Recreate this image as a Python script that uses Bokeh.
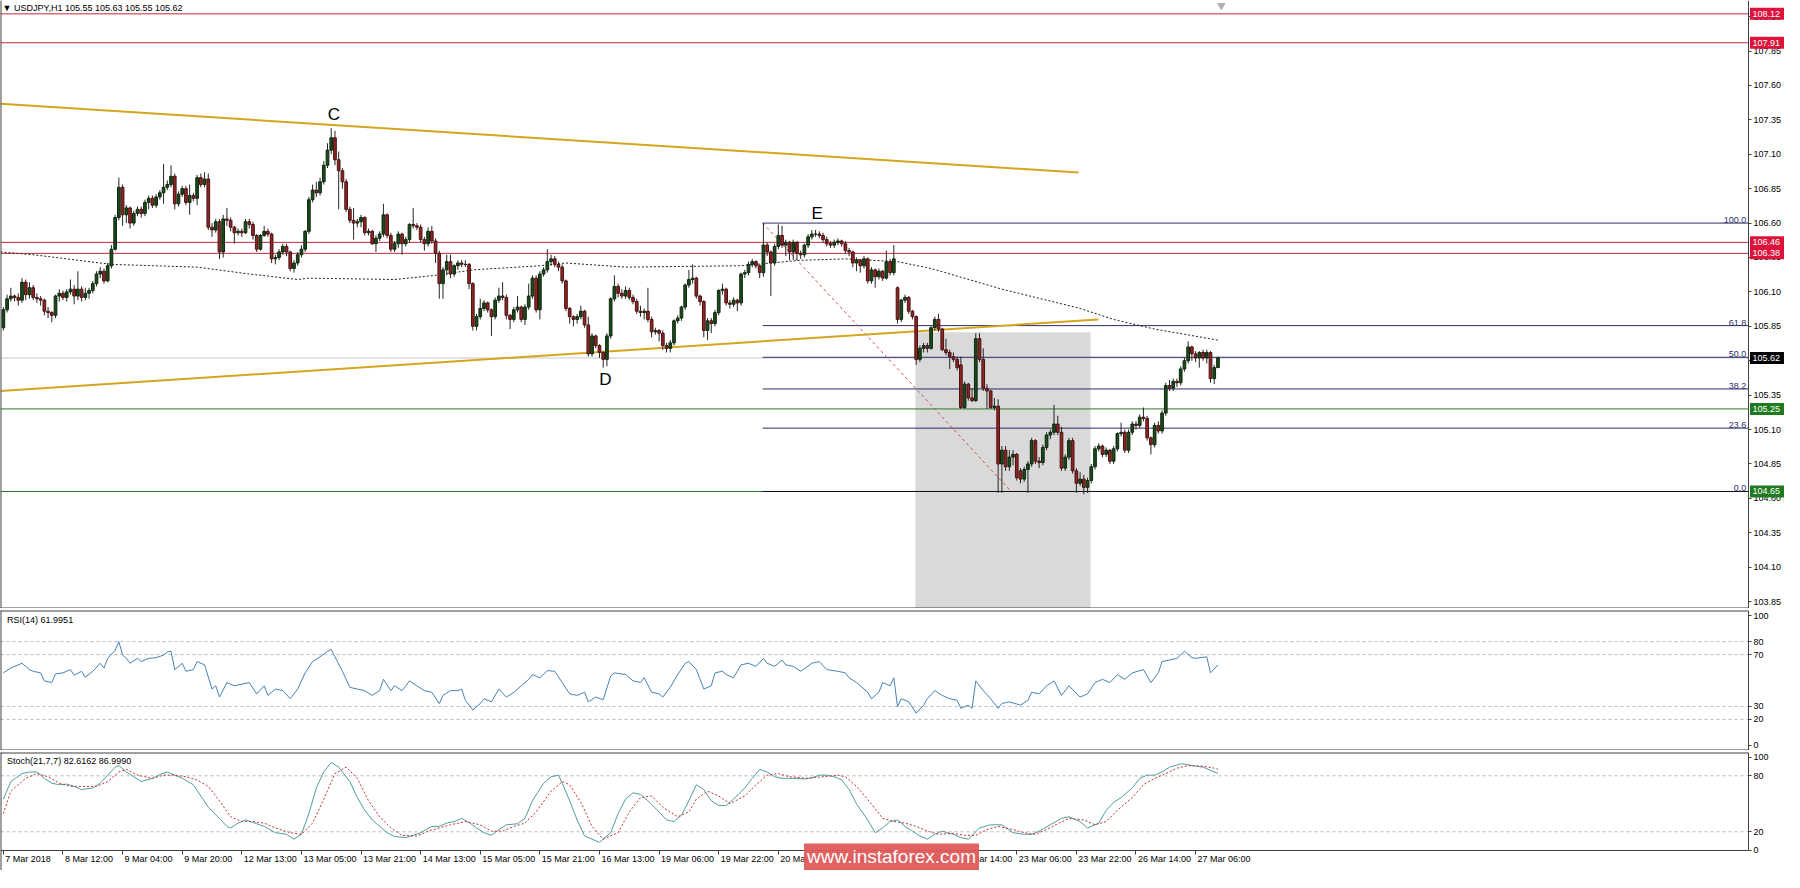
from bokeh.plotting import figure
from bokeh.models import (Range1d, FixedTicker, NumeralTickFormatter, Label, LinearAxis,
                          ColumnDataSource)
from bokeh.layouts import column
from bokeh.embed import file_html
from bokeh.resources import INLINE
from bokeh.core.properties import value

FONT = "Liberation Sans"

# ---------------- data (USDJPY H1) ----------------
opens = [
    105.84, 105.97, 106.05, 106.07, 106.06, 106.04, 106.17, 106.08, 106.13, 106.06,
    106.05, 106.04, 105.96, 105.95, 105.93, 106.07, 106.09, 106.06, 106.10, 106.12,
    106.07, 106.12, 106.06, 106.09, 106.11, 106.16, 106.23, 106.25, 106.18, 106.29,
    106.41, 106.64, 106.86, 106.66, 106.71, 106.60, 106.67, 106.70, 106.67, 106.75,
    106.78, 106.73, 106.79, 106.82, 106.86, 106.88, 106.94, 106.74, 106.81, 106.85,
    106.75, 106.80, 106.78, 106.93, 106.88, 106.92, 106.57, 106.55, 106.61, 106.39,
    106.63, 106.62, 106.57, 106.53, 106.54, 106.53, 106.61, 106.59, 106.51, 106.41,
    106.51, 106.54, 106.52, 106.34, 106.35, 106.39, 106.43, 106.39, 106.27, 106.31,
    106.37, 106.41, 106.54, 106.77, 106.84, 106.82, 106.90, 107.02, 107.13, 107.22,
    107.06, 106.98, 106.90, 106.70, 106.62, 106.60, 106.61, 106.64, 106.53, 106.54,
    106.45, 106.49, 106.52, 106.66, 106.51, 106.41, 106.45, 106.52, 106.45, 106.48,
    106.59, 106.58, 106.57, 106.48, 106.45, 106.54, 106.47, 106.38, 106.16, 106.26,
    106.32, 106.23, 106.29, 106.31, 106.30, 106.30, 106.16, 105.85, 105.92, 105.98,
    106.02, 105.97, 105.92, 106.04, 106.07, 106.06, 105.93, 105.90, 105.97, 105.99,
    105.90, 105.99, 106.07, 106.20, 105.97, 106.23, 106.26, 106.32, 106.34, 106.30,
    106.28, 106.18, 105.98, 105.92, 105.90, 105.92, 105.96, 105.86, 105.65, 105.78,
    105.71, 105.66, 105.61, 105.78, 106.05, 106.14, 106.09, 106.07, 106.11, 106.06,
    106.03, 105.96, 105.95, 105.96, 105.90, 105.81, 105.82, 105.80, 105.71, 105.69,
    105.73, 105.89, 105.91, 105.99, 106.15, 106.19, 106.20, 106.07, 106.03, 105.82,
    105.89, 105.87, 105.95, 106.11, 106.12, 106.02, 106.01, 106.04, 106.02, 106.23,
    106.24, 106.30, 106.32, 106.29, 106.24, 106.44, 106.39, 106.31, 106.43, 106.51,
    106.44, 106.46, 106.39, 106.46, 106.38, 106.37, 106.44, 106.50, 106.52, 106.52,
    106.51, 106.48, 106.45, 106.44, 106.46, 106.47, 106.45, 106.40, 106.39, 106.31,
    106.33, 106.29, 106.34, 106.18, 106.26, 106.21, 106.25, 106.20, 106.32, 106.24,
    106.13, 105.90, 106.04, 106.06, 105.96, 105.92, 105.61, 105.69, 105.71, 105.69,
    105.84, 105.90, 105.83, 105.68, 105.66, 105.63, 105.61, 105.57, 105.26, 105.43,
    105.33, 105.31, 105.76, 105.61, 105.40, 105.38, 105.26, 105.27, 104.85, 104.95,
    104.83, 104.90, 104.92, 104.80, 104.74, 104.81, 104.85, 105.02, 104.87, 104.86,
    104.97, 105.06, 105.08, 105.14, 105.08, 104.82, 104.90, 105.02, 104.80, 104.71,
    104.74, 104.68, 104.73, 104.83, 104.96, 104.98, 104.92, 104.95, 104.87, 104.96,
    105.07, 105.08, 104.95, 105.08, 105.14, 105.13, 105.19, 105.18, 105.04, 104.99,
    105.13, 105.09, 105.22, 105.42, 105.40, 105.45, 105.44, 105.54, 105.60, 105.70,
    105.65, 105.62, 105.66, 105.62, 105.66, 105.47, 105.55,
]
highs = [
    105.99, 106.08, 106.13, 106.08, 106.09, 106.20, 106.19, 106.17, 106.15, 106.09,
    106.07, 106.05, 105.99, 105.96, 106.08, 106.12, 106.11, 106.12, 106.19, 106.15,
    106.25, 106.14, 106.13, 106.13, 106.18, 106.25, 106.28, 106.27, 106.31, 106.44,
    106.66, 106.93, 106.88, 106.73, 106.72, 106.69, 106.72, 106.72, 106.77, 106.80,
    106.80, 106.81, 106.84, 107.03, 106.91, 107.02, 106.96, 106.83, 106.87, 106.87,
    106.88, 106.82, 106.95, 106.96, 106.97, 106.96, 106.60, 106.63, 106.63, 106.66,
    106.71, 106.64, 106.58, 106.56, 106.56, 106.63, 106.63, 106.61, 106.52, 106.52,
    106.58, 106.56, 106.53, 106.37, 106.41, 106.45, 106.45, 106.40, 106.33, 106.39,
    106.44, 106.55, 106.79, 106.88, 106.90, 106.93, 107.05, 107.18, 107.29, 107.27,
    107.12, 107.00, 106.92, 106.72, 106.71, 106.63, 106.66, 106.65, 106.56, 106.55,
    106.51, 106.54, 106.74, 106.67, 106.53, 106.47, 106.54, 106.53, 106.50, 106.60,
    106.71, 106.60, 106.59, 106.50, 106.57, 106.58, 106.49, 106.40, 106.28, 106.37,
    106.37, 106.30, 106.33, 106.33, 106.33, 106.31, 106.17, 105.94, 106.05, 106.04,
    106.03, 105.98, 106.06, 106.13, 106.17, 106.08, 105.94, 105.99, 106.07, 106.00,
    106.01, 106.16, 106.22, 106.22, 106.25, 106.28, 106.41, 106.37, 106.36, 106.32,
    106.30, 106.19, 105.99, 105.93, 105.94, 106.00, 105.97, 105.92, 105.80, 105.79,
    105.72, 105.67, 105.80, 106.06, 106.22, 106.16, 106.12, 106.14, 106.13, 106.08,
    106.05, 106.00, 105.98, 106.13, 105.92, 105.84, 105.83, 105.82, 105.73, 105.75,
    105.90, 105.93, 106.00, 106.16, 106.26, 106.30, 106.21, 106.08, 106.04, 105.91,
    105.91, 105.97, 106.12, 106.16, 106.13, 106.04, 106.06, 106.05, 106.24, 106.26,
    106.32, 106.34, 106.33, 106.30, 106.60, 106.46, 106.40, 106.45, 106.59, 106.58,
    106.48, 106.47, 106.48, 106.47, 106.40, 106.45, 106.52, 106.55, 106.55, 106.54,
    106.53, 106.50, 106.47, 106.48, 106.49, 106.48, 106.47, 106.42, 106.40, 106.35,
    106.34, 106.36, 106.35, 106.28, 106.27, 106.27, 106.26, 106.40, 106.34, 106.44,
    106.14, 106.05, 106.08, 106.07, 105.97, 105.93, 105.71, 105.73, 105.73, 105.85,
    105.92, 105.94, 105.84, 105.76, 105.68, 105.66, 105.63, 105.63, 105.45, 105.44,
    105.40, 105.80, 105.80, 105.69, 105.43, 105.39, 105.33, 105.32, 104.98, 104.98,
    104.95, 104.95, 104.93, 104.82, 104.83, 104.87, 105.04, 105.03, 104.90, 104.99,
    105.08, 105.10, 105.28, 105.20, 105.12, 104.92, 105.04, 105.04, 104.82, 104.79,
    104.77, 104.75, 104.85, 104.98, 105.00, 104.99, 104.97, 104.96, 104.98, 105.08,
    105.15, 105.10, 105.10, 105.16, 105.16, 105.21, 105.26, 105.20, 105.05, 105.15,
    105.16, 105.24, 105.44, 105.46, 105.47, 105.47, 105.56, 105.62, 105.74, 105.71,
    105.67, 105.67, 105.68, 105.68, 105.67, 105.57, 105.63,
]
lows = [
    105.82, 105.95, 106.03, 106.03, 106.00, 106.02, 106.04, 106.05, 106.04, 106.02,
    106.00, 105.93, 105.91, 105.88, 105.91, 106.03, 106.04, 106.03, 106.08, 106.01,
    106.04, 106.03, 106.04, 106.05, 106.09, 106.14, 106.20, 106.16, 106.17, 106.27,
    106.40, 106.62, 106.58, 106.60, 106.56, 106.58, 106.65, 106.64, 106.65, 106.70,
    106.71, 106.71, 106.77, 106.74, 106.84, 106.86, 106.70, 106.72, 106.79, 106.73,
    106.66, 106.76, 106.73, 106.86, 106.86, 106.55, 106.50, 106.53, 106.34, 106.35,
    106.58, 106.54, 106.45, 106.51, 106.50, 106.52, 106.56, 106.48, 106.39, 106.40,
    106.50, 106.50, 106.31, 106.30, 106.33, 106.37, 106.36, 106.25, 106.24, 106.29,
    106.35, 106.39, 106.52, 106.75, 106.79, 106.80, 106.88, 107.00, 107.10, 107.02,
    106.70, 106.85, 106.68, 106.60, 106.48, 106.57, 106.57, 106.51, 106.51, 106.44,
    106.39, 106.47, 106.50, 106.49, 106.39, 106.39, 106.42, 106.37, 106.43, 106.46,
    106.56, 106.55, 106.46, 106.40, 106.43, 106.45, 106.31, 106.05, 106.05, 106.22,
    106.20, 106.21, 106.26, 106.28, 106.28, 106.12, 105.82, 105.82, 105.90, 105.96,
    105.95, 105.78, 105.90, 106.02, 106.04, 105.90, 105.83, 105.88, 105.95, 105.88,
    105.86, 105.97, 106.05, 105.95, 105.90, 106.21, 106.24, 106.29, 106.28, 106.25,
    106.16, 105.96, 105.87, 105.85, 105.87, 105.90, 105.84, 105.63, 105.63, 105.69,
    105.62, 105.55, 105.56, 105.76, 106.03, 106.06, 106.05, 106.05, 106.04, 106.01,
    105.94, 105.92, 105.90, 105.88, 105.77, 105.79, 105.74, 105.68, 105.66, 105.66,
    105.71, 105.87, 105.89, 105.97, 106.13, 106.16, 106.05, 106.00, 105.77, 105.75,
    105.80, 105.85, 105.93, 106.08, 106.00, 105.98, 105.99, 105.96, 106.00, 106.20,
    106.22, 106.28, 106.27, 106.20, 106.21, 106.36, 106.07, 106.29, 106.41, 106.42,
    106.36, 106.33, 106.33, 106.33, 106.34, 106.35, 106.42, 106.48, 106.50, 106.49,
    106.46, 106.43, 106.42, 106.42, 106.44, 106.43, 106.38, 106.36, 106.28, 106.25,
    106.24, 106.27, 106.16, 106.16, 106.13, 106.19, 106.18, 106.19, 106.22, 106.22,
    105.87, 105.88, 106.02, 105.94, 105.90, 105.57, 105.59, 105.66, 105.66, 105.68,
    105.82, 105.81, 105.67, 105.64, 105.54, 105.59, 105.53, 105.25, 105.25, 105.31,
    105.30, 105.30, 105.59, 105.38, 105.25, 105.25, 105.24, 104.64, 104.64, 104.80,
    104.80, 104.84, 104.73, 104.71, 104.72, 104.64, 104.83, 104.85, 104.82, 104.84,
    104.95, 105.03, 105.06, 105.06, 104.80, 104.80, 104.88, 104.78, 104.64, 104.69,
    104.63, 104.64, 104.71, 104.81, 104.94, 104.90, 104.90, 104.85, 104.85, 104.94,
    105.05, 104.93, 104.93, 105.06, 105.10, 105.11, 105.16, 105.02, 104.92, 104.97,
    105.07, 105.07, 105.20, 105.38, 105.38, 105.41, 105.42, 105.52, 105.58, 105.60,
    105.59, 105.55, 105.60, 105.58, 105.44, 105.43, 105.55,
]
closes = [
    105.97, 106.05, 106.07, 106.06, 106.04, 106.17, 106.08, 106.13, 106.06, 106.05,
    106.04, 105.96, 105.95, 105.93, 106.07, 106.09, 106.06, 106.10, 106.12, 106.07,
    106.12, 106.06, 106.09, 106.11, 106.16, 106.23, 106.25, 106.18, 106.29, 106.41,
    106.64, 106.86, 106.66, 106.71, 106.60, 106.67, 106.70, 106.67, 106.75, 106.78,
    106.73, 106.79, 106.82, 106.86, 106.88, 106.94, 106.74, 106.81, 106.85, 106.75,
    106.80, 106.78, 106.93, 106.88, 106.92, 106.57, 106.55, 106.61, 106.39, 106.63,
    106.62, 106.57, 106.53, 106.54, 106.53, 106.61, 106.59, 106.51, 106.41, 106.51,
    106.54, 106.52, 106.34, 106.35, 106.39, 106.43, 106.39, 106.27, 106.31, 106.37,
    106.41, 106.54, 106.77, 106.84, 106.82, 106.90, 107.02, 107.13, 107.22, 107.06,
    106.98, 106.90, 106.70, 106.62, 106.60, 106.61, 106.64, 106.53, 106.54, 106.45,
    106.49, 106.52, 106.66, 106.51, 106.41, 106.45, 106.52, 106.45, 106.48, 106.59,
    106.58, 106.57, 106.48, 106.45, 106.54, 106.47, 106.38, 106.16, 106.26, 106.32,
    106.23, 106.29, 106.31, 106.30, 106.30, 106.16, 105.85, 105.92, 105.98, 106.02,
    105.97, 105.92, 106.04, 106.07, 106.06, 105.93, 105.90, 105.97, 105.99, 105.90,
    105.99, 106.07, 106.20, 105.97, 106.23, 106.26, 106.32, 106.34, 106.30, 106.28,
    106.18, 105.98, 105.92, 105.90, 105.92, 105.96, 105.86, 105.65, 105.78, 105.71,
    105.66, 105.61, 105.78, 106.05, 106.14, 106.09, 106.07, 106.11, 106.06, 106.03,
    105.96, 105.95, 105.96, 105.90, 105.81, 105.82, 105.80, 105.71, 105.69, 105.73,
    105.89, 105.91, 105.99, 106.15, 106.19, 106.20, 106.07, 106.03, 105.82, 105.89,
    105.87, 105.95, 106.11, 106.12, 106.02, 106.01, 106.04, 106.02, 106.23, 106.24,
    106.30, 106.32, 106.29, 106.24, 106.44, 106.39, 106.31, 106.43, 106.51, 106.44,
    106.46, 106.39, 106.46, 106.38, 106.37, 106.44, 106.50, 106.52, 106.52, 106.51,
    106.48, 106.45, 106.44, 106.46, 106.47, 106.45, 106.40, 106.39, 106.31, 106.33,
    106.29, 106.34, 106.18, 106.26, 106.21, 106.25, 106.20, 106.32, 106.24, 106.34,
    105.90, 106.04, 106.06, 105.96, 105.92, 105.61, 105.69, 105.71, 105.69, 105.84,
    105.90, 105.83, 105.68, 105.66, 105.63, 105.61, 105.55, 105.26, 105.43, 105.33,
    105.31, 105.76, 105.61, 105.40, 105.38, 105.26, 105.27, 104.85, 104.95, 104.83,
    104.90, 104.92, 104.75, 104.74, 104.81, 104.85, 105.02, 104.87, 104.86, 104.97,
    105.06, 105.08, 105.14, 105.08, 104.82, 104.90, 105.02, 104.80, 104.71, 104.74,
    104.68, 104.73, 104.83, 104.96, 104.98, 104.92, 104.95, 104.87, 104.96, 105.07,
    105.08, 104.95, 105.08, 105.14, 105.13, 105.19, 105.18, 105.04, 104.99, 105.13,
    105.09, 105.22, 105.42, 105.40, 105.45, 105.44, 105.54, 105.60, 105.70, 105.65,
    105.62, 105.66, 105.62, 105.66, 105.47, 105.55, 105.62,
]

# moving average (dotted) read at sample bars
ma_bars = [-0.77, 8, 29, 52, 66, 79, 82, 105, 116, 126, 144, 151, 167, 198, 214,
           226, 240, 249, 268, 289, 298, 309, 326]
ma_vals = [106.39, 106.37, 106.30, 106.28, 106.23, 106.19, 106.20, 106.19, 106.22,
           106.26, 106.29, 106.31, 106.28, 106.29, 106.33, 106.34, 106.32, 106.27,
           106.12, 105.98, 105.90, 105.83, 105.75]

# RSI(14) read at sample bars
rsi_bars = [0, 2, 5, 7, 8, 10, 11, 13, 14, 16, 18, 19, 21, 22, 24, 26, 27, 28, 30, 31,
            32, 33, 34, 36, 37, 39, 41, 43, 44, 45, 46, 48, 49, 51, 52, 54, 56, 57, 58, 60,
            62, 64, 66, 68, 70, 71, 73, 75, 77, 79, 81, 83, 85, 87, 88, 89, 91, 93, 95, 97,
            99, 101, 102, 104, 105, 107, 109, 111, 113, 115, 117, 118, 120, 122, 123, 124,
            126, 128, 129, 131, 133, 135, 137, 139, 141, 142, 144, 146, 148, 150,
            152, 154, 156, 157, 159, 161, 163, 164, 167, 169, 171, 172, 174, 176, 177, 179,
            181, 183, 184, 186, 188, 190, 191, 193, 194, 196, 198, 200, 202, 204,
            205, 207, 209, 210, 212, 214, 217, 219, 221, 224, 226, 227, 229, 232, 233, 235,
            236, 238, 239, 240, 241, 243, 245, 247, 248, 250, 252, 254, 256, 257,
            259, 260, 261, 263, 265, 267, 268, 270, 273, 275, 276, 278, 280, 282, 284, 286,
            289, 291, 293, 295, 297, 299, 301, 303, 306, 308, 310, 311, 313, 315,
            317, 319, 320, 323, 324, 326]
rsi_vals = [55.9, 59.6, 63.3, 58.4, 57.1, 55.9, 49.7, 48.4, 55.1, 55.9,
            58.4, 54.1, 57.1, 52.6, 57.1, 63.3, 59.6, 67.1, 73.3, 80.0,
            69.6, 67.1, 63.3, 67.1, 64.6, 67.1, 67.6, 69.6, 72.0, 72.5,
            58.4, 63.3, 57.1, 58.4, 64.6, 62.1, 43.4, 45.9, 37.2, 48.4,
            45.9, 47.2, 48.4, 39.7, 45.9, 38.5, 43.4, 42.2, 36.0, 43.4,
            55.9, 64.6, 68.3, 72.5, 74.0, 68.3, 57.1, 44.7, 43.4, 42.2,
            38.5, 42.2, 50.9, 42.2, 45.9, 42.2, 49.7, 45.9, 42.2, 40.9,
            32.2, 38.5, 42.2, 42.2, 43.4, 34.7, 27.3, 32.2, 36.0, 33.5,
            43.4, 37.2, 40.9, 45.9, 50.9, 54.6, 52.1, 57.6, 57.1, 48.4,
            39.7, 38.5, 40.9, 33.5, 37.2, 35.2, 53.4, 55.9, 54.6, 49.7,
            48.4, 52.1, 40.9, 39.7, 37.2, 44.7, 54.6, 63.3, 64.6, 58.4,
            43.4, 45.9, 55.9, 57.1, 54.6, 52.1, 62.1, 63.3, 60.9, 67.1,
            63.3, 60.9, 65.8, 62.1, 60.9, 57.1, 63.3, 64.6, 58.4, 57.1,
            55.9, 52.1, 48.4, 40.9, 36.0, 40.9, 48.4, 45.9, 52.1, 29.8,
            36.0, 33.5, 24.8, 31.0, 36.0, 42.2, 38.5, 36.0, 34.7, 28.5,
            31.0, 28.5, 49.7, 42.2, 36.0, 28.5, 32.2, 33.5, 31.0, 34.7,
            40.9, 39.7, 45.9, 49.7, 38.5, 45.9, 37.2, 39.7, 48.4, 50.9,
            48.4, 54.6, 50.9, 55.9, 58.4, 48.4, 55.9, 64.6, 65.8, 67.1,
            72.5, 67.6, 67.1, 68.3, 55.9, 62.0]

# Stochastic(21,7,7) main and signal read at sample bars
stoch_bars = [0, 2, 5, 7, 9, 11, 13, 15, 17, 19, 21, 24, 26, 28, 30, 31, 33, 35, 37, 40,
              42, 44, 46, 48, 51, 53, 55, 58, 60, 61, 63, 65, 67, 70, 73, 76, 78, 80, 82, 84,
              86, 88, 90, 93, 95, 97, 99, 101, 103, 105, 108, 110, 112, 115, 117, 119, 121,
              123, 125, 127, 129, 131, 133, 135, 138, 140, 142, 145, 147, 149,
              150, 152, 154, 156, 158, 160, 163, 165, 167, 169, 171, 173, 176, 178, 180,
              182, 184, 186, 188, 190, 192, 194, 196, 199, 201, 203, 205, 207, 209, 212,
              215, 217, 219, 221, 223, 225, 227, 229, 232, 234, 236, 238, 240, 242, 244,
              246, 248, 250, 252, 255, 257, 259, 262, 265, 268, 271, 274, 276, 278, 281,
              284, 286, 289, 291, 294, 296, 298, 300, 303, 305, 307, 309, 311, 313, 316,
              317, 319, 322, 324, 326]
stoch_main = [55, 73.8, 82.4, 84.1, 84.1, 77.3, 72.1, 70.4, 71.1, 68.7,
              65.3, 67, 72.1, 80.7, 89.3, 91, 84.1, 79, 73.8, 77.3,
              81.4, 84.1, 80.7, 77.3, 70.4, 58.4, 46.4, 34.4, 25.8, 24.1,
              29.3, 32.7, 30, 25.8, 19, 17.3, 12.1, 17.3, 39.5, 67,
              84.1, 94.4, 89.3, 73.8, 56.7, 43, 32.7, 25.8, 19, 14.9,
              13.8, 16.2, 19, 25.8, 25.8, 29.3, 31, 34.4, 30, 24.1,
              19, 16.2, 22.4, 27.5, 28.6, 34.4, 53.3, 72.1, 79, 80.7,
              72.1, 53.3, 32.7, 15.5, 12.1, 8.7, 19, 39.5, 55, 61.8,
              60.1, 53.3, 41.3, 32.7, 31, 37.8, 53.3, 70.4, 65.3, 53.3,
              48.1, 48.1, 55, 67, 77.3, 86.9, 84.1, 79, 77.3, 77.3,
              76.6, 77.9, 80.7, 80.7, 79, 75.5, 65.3, 49.8, 32.7, 19,
              24.1, 31, 32.7, 25.8, 20.7, 15.5, 12.1, 17.3, 20.7, 17.3,
              13.8, 12.1, 24.1, 27.5, 27.5, 19, 17.3, 17.3, 20.7, 27.5,
              34.4, 36.1, 31, 24.1, 29.3, 43, 51.5, 56.7, 67, 77.3,
              80.7, 80.7, 84.1, 89.3, 92.7, 92.7, 91, 89.3, 85.8, 82.6]
signal_bars = [0, 2, 6, 9, 12, 15, 18, 21, 25, 28, 31, 33, 36, 40, 43, 46, 49, 52, 55, 58,
               61, 64, 67, 70, 73, 77, 80, 83, 86, 89, 92, 95, 98, 101, 104, 107, 111, 114,
               117, 120, 124, 128, 131, 134, 137, 140, 143, 147, 150, 152, 155, 158, 161,
               165, 168, 171, 174, 177, 181, 184, 186, 189, 192, 195, 199, 202, 205, 208,
               211, 216, 220, 224, 226, 229, 233, 236, 239, 242, 245, 248, 251, 255, 258,
               261, 264, 267, 271, 274, 277, 280, 283, 286, 290, 293, 296, 299, 303, 306,
               309, 312, 315, 318, 322, 325, 326]
stoch_signal = [39.5, 63.5, 77.3, 82.4, 79, 72.1, 68.7, 68.7, 68.7, 73.8,
                84.1, 86.9, 80.7, 77.3, 80.7, 80.7, 79, 75.5, 68.7, 53.3,
                36.1, 31, 31, 29.3, 24.1, 19, 17.3, 29.3, 55, 82.4,
                89.3, 77.3, 53.3, 36.1, 24.1, 16.2, 15.5, 20.7, 24.1, 27.5,
                31, 27.5, 20.7, 20.7, 25.8, 29.3, 41.3, 63.5, 73.8, 70.4,
                51.5, 25.8, 12.1, 19, 41.3, 56.7, 58.4, 46.4, 36.1, 41.3,
                55, 63.5, 58.4, 50.1, 58.4, 70.4, 80.7, 82.4, 79, 77.3,
                79, 80.7, 79, 68.7, 49.8, 34.4, 31, 29.3, 25.8, 20.7,
                17.3, 18.3, 16.2, 16.2, 22.4, 25.8, 22.4, 19, 17.3, 22.4,
                28.6, 34.4, 32.7, 27.5, 31, 43, 56.7, 70.4, 77.3, 82.4,
                88.2, 91, 90.3, 88.2, 87.0]

time_ticks = list(range(0, 321, 16))
time_labels = ["7 Mar 2018", "8 Mar 12:00", "9 Mar 04:00", "9 Mar 20:00", "12 Mar 13:00",
               "13 Mar 05:00", "13 Mar 21:00", "14 Mar 13:00", "15 Mar 05:00", "15 Mar 21:00",
               "16 Mar 13:00", "19 Mar 06:00", "19 Mar 22:00", "20 Mar 14:00", "21 Mar 06:00",
               "21 Mar 22:00", "22 Mar 14:00", "23 Mar 06:00", "23 Mar 22:00", "26 Mar 14:00",
               "27 Mar 06:00"]

# chart objects
red_levels = [108.12, 107.91, 106.46, 106.38]
green_levels = [105.25, 104.65]
bid_price = 105.62
fib_high, fib_low = 106.60, 104.65
fib_ratios = [100.0, 61.8, 50.0, 38.2, 23.6, 0.0]
fib_start_bar, fib_end_bar = 203.8, 270.5
upper_tl_bars, upper_tl_prices = [-0.77, 288.6], [107.467, 106.967]
lower_tl_bars, lower_tl_prices = [-0.77, 293.9], [105.38, 105.90]
box_bars, box_top = [244.8, 291.8], 105.806
wave_names = ["C", "D", "E"]
wave_bars = [88.7, 161.6, 218.4]
wave_prices = [107.387, 105.467, 106.669]
tag_texts = ["108.12", "107.91", "106.46", "106.38", "105.62", "105.25", "104.65"]
tag_prices = [108.12, 107.91, 106.46, 106.38, 105.62, 105.25, 104.65]
tag_colors = ["#dc143c", "#dc143c", "#dc143c", "#dc143c", "#000000", "#1f7a1f", "#1f7a1f"]

# ---------------- layout constants ----------------
TOTAL_W = 1784
AXIS_COL = 36                      # width of the price-scale column
AXIS_BAR = 468.4                   # bar index where the price scale sits
X0 = -0.77
PX_PER_BAR = (TOTAL_W - AXIS_COL) / (AXIS_BAR - X0)
XR = Range1d(X0, X0 + TOTAL_W / PX_PER_BAR)
AX = "#404040"
RED = "#c0283c"
GREEN = "#2a7a2a"
FIBC = "#2c2c6c"


def style_axis(ax):
    ax.axis_line_color = AX
    ax.major_tick_line_color = AX
    ax.major_tick_in = 0
    ax.major_tick_out = 3
    ax.minor_tick_line_color = None
    ax.major_label_text_font = FONT
    ax.major_label_text_font_size = "9px"
    ax.major_label_text_color = "#000000"
    ax.major_label_standoff = 2


def make_fig(h, yr, top=0, xloc=None):
    f = figure(width=TOTAL_W, frame_height=h, x_range=XR, y_range=yr,
               x_axis_location=xloc, y_axis_location="right",
               output_backend="svg", toolbar_location=None,
               min_border_left=0, min_border_top=top, min_border_bottom=0,
               min_border_right=0, outline_line_color=None,
               background_fill_color="white", border_fill_color="white")
    f.grid.visible = False
    ax = f.yaxis[0]
    style_axis(ax)
    ax.fixed_location = AXIS_BAR
    return f


def borders(f, h, yr, top=True, bottom=True):
    # panel frame lines around the data area (left, top, bottom), price scale is the right edge
    ppu = h / (yr.end - yr.start)
    xl = XR.start + 0.5 / PX_PER_BAR
    f.line([xl, xl], [yr.start, yr.end], line_color=AX, line_width=1, level="overlay")
    if top:
        yt = yr.end - 0.5 / ppu
        f.line([XR.start, AXIS_BAR], [yt, yt], line_color=AX, line_width=1, level="overlay")
    if bottom:
        yb = yr.start + 0.5 / ppu
        f.line([XR.start, AXIS_BAR], [yb, yb], line_color=AX, line_width=1, level="overlay")


def hlines(f, ys, color, dash="solid"):
    f.segment(x0=[XR.start] * len(ys), y0=ys, x1=[AXIS_BAR] * len(ys), y1=ys,
              line_color=color, line_width=1, line_dash=dash, level="underlay")


# ---------------- main price panel ----------------
MAIN_H = 608
main_yr = Range1d(103.80, 108.217)
p = make_fig(MAIN_H, main_yr)
p.yaxis.ticker = FixedTicker(ticks=[round(103.85 + 0.25 * k, 2) for k in range(18)])
p.yaxis.formatter = NumeralTickFormatter(format="0.00")
borders(p, MAIN_H, main_yr, top=False, bottom=True)

p.quad(left=[box_bars[0]], right=[box_bars[1]], top=[box_top], bottom=[103.0],
       fill_color="#d9d9d9", line_color=None, level="underlay")
hlines(p, red_levels, RED)
hlines(p, green_levels, GREEN)
hlines(p, [bid_price], "#c8c8c8")

fib_prices = [fib_low + (fib_high - fib_low) * r / 100.0 for r in fib_ratios]
fib_colors = [FIBC if r > 0 else "#101020" for r in fib_ratios]
p.segment(x0=[fib_start_bar] * len(fib_prices), y0=fib_prices,
          x1=[AXIS_BAR] * len(fib_prices), y1=fib_prices, line_color=fib_colors,
          line_width=1, level="underlay")
p.line([fib_start_bar, fib_end_bar], [fib_high, fib_low], line_color="#d05050",
       line_dash="3 3", line_width=1)
p.text(x=[AXIS_BAR - 0.6] * len(fib_prices), y=fib_prices,
       text=["%.1f" % r for r in fib_ratios], text_font=value(FONT),
       text_font_size="9px", text_color=FIBC, text_align="right",
       text_baseline="bottom")

p.line(upper_tl_bars, upper_tl_prices, line_color="#d4a520", line_width=2)
p.line(lower_tl_bars, lower_tl_prices, line_color="#d4a520", line_width=2)
p.line(ma_bars, ma_vals, line_color="#202020", line_width=1, line_dash="2 2")

bars = list(range(len(closes)))
up = [c >= o for o, c in zip(opens, closes)]
src = ColumnDataSource(dict(
    x=bars, h=highs, l=lows,
    top=[max(o, c) for o, c in zip(opens, closes)],
    bot=[min(o, c) for o, c in zip(opens, closes)],
    fill=["#1d4a1d" if u else "#8c2626" for u in up],
    edge=["#0c260c" if u else "#4a1010" for u in up],
))
p.segment(x0="x", y0="l", x1="x", y1="h", source=src, line_color="#262626", line_width=1)
p.vbar(x="x", width=0.72, top="top", bottom="bot", source=src,
       fill_color="fill", line_color="edge", line_width=1)

p.text(x=wave_bars, y=wave_prices, text=wave_names, text_font=value(FONT),
       text_font_size="17px", text_color="#000000", text_align="center",
       text_baseline="middle")
p.text(x=[-0.2], y=[108.159], text=["\u25bc USDJPY,H1  105.55 105.63 105.55 105.62"],
       text_font=value(FONT), text_font_size="9px", text_color="#000000",
       text_align="left", text_baseline="middle")
p.scatter(x=[326.9], y=[108.18], marker="inverted_triangle", size=7, color="#b0b0b0")

# price tags in the price-scale column (drawn above the scale labels)
tag_x0 = AXIS_BAR + 1.5 / PX_PER_BAR
tag_x1 = XR.end
p.rect(x=[(tag_x0 + tag_x1) / 2] * len(tag_prices), y=tag_prices,
       width=[tag_x1 - tag_x0] * len(tag_prices), height=12, height_units="screen",
       fill_color=tag_colors, line_color=None, level="overlay")
p.text(x=[tag_x0 + 2.5 / PX_PER_BAR] * len(tag_prices), y=tag_prices, text=tag_texts,
       text_font=value(FONT), text_font_size="9px", text_color="white",
       text_align="left", text_baseline="middle", level="overlay")

# ---------------- RSI panel ----------------
RSI_H = 140
rsi_yr = Range1d(-4, 104)
pr = make_fig(RSI_H, rsi_yr, top=2)
pr.yaxis.ticker = FixedTicker(ticks=[0, 20, 30, 70, 80, 100])
borders(pr, RSI_H, rsi_yr)
hlines(pr, [80, 70, 30, 20], "#b8b8b8", dash="3 3")
pr.line(rsi_bars, rsi_vals, line_color="#4682b4", line_width=1)
pr.text(x=[1.0], y=[97], text=["RSI(14) 61.9951"], text_font=value(FONT),
        text_font_size="9px", text_color="#000000", text_align="left",
        text_baseline="middle")

# ---------------- Stochastic panel (time scale inside its lower strip) ----------------
ST_H = 118
st_yr = Range1d(-21.5, 105)
ps = make_fig(ST_H, st_yr, top=2, xloc="below")
ps.yaxis.ticker = FixedTicker(ticks=[0, 20, 80, 100])
ps.yaxis[0].bounds = (0, st_yr.end)
borders(ps, ST_H, st_yr, top=True, bottom=False)
hlines(ps, [80, 20], "#b8b8b8", dash="3 3")
ps.line(stoch_bars, stoch_main, line_color="#4f9e9e", line_width=1)
ps.line(signal_bars, stoch_signal, line_color="#c03030", line_width=1, line_dash="2 2")
ps.text(x=[1.0], y=[96.4], text=["Stoch(21,7,7) 82.6162 86.9990"], text_font=value(FONT),
        text_font_size="9px", text_color="#000000", text_align="left",
        text_baseline="middle")

# time scale: tick marks at the bar, label starting just right of its tick
xa = ps.xaxis[0]
style_axis(xa)
xa.fixed_location = 0
xa.bounds = (XR.start, AXIS_BAR)
xa.ticker = FixedTicker(ticks=time_ticks)
xa.major_label_overrides = {t: "" for t in time_ticks}
xa.major_tick_out = 4

CHAR_W = {" ": 2.5, ":": 2.5, "M": 7.5, "a": 5.0, "r": 3.0}


def label_px(s):
    return sum(CHAR_W.get(ch, 5.0) for ch in s)


label_pos = [round(t + (label_px(s) / 2 + 2) / PX_PER_BAR, 3)
             for t, s in zip(time_ticks, time_labels)]
xb = LinearAxis(fixed_location=0, ticker=FixedTicker(ticks=label_pos),
                major_label_overrides={pos: s for pos, s in zip(label_pos, time_labels)})
style_axis(xb)
xb.axis_line_color = None
xb.major_tick_line_color = None
xb.major_tick_out = 0
xb.major_label_standoff = 4
ps.add_layout(xb, "below")

ps.add_layout(Label(x=214.9, y=7.5, text="www.instaforex.com", text_font=FONT,
                    text_font_size="19px", text_color="white", text_align="left",
                    text_baseline="top", background_fill_color="#e05a5a",
                    background_fill_alpha=0.95, padding=3))

layout = column(p, pr, ps, spacing=0)
open("out.html", "w").write(file_html(layout, INLINE))
